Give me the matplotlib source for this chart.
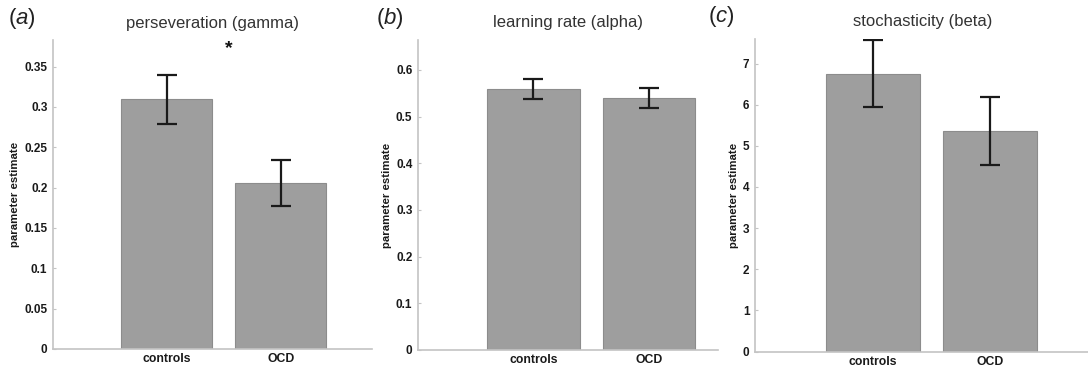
import matplotlib.pyplot as plt
import numpy as np

plt.rcParams['font.family'] = ['Liberation Sans', 'DejaVu Sans']
plt.rcParams['mathtext.fontset'] = 'custom'
plt.rcParams['mathtext.it'] = 'Liberation Sans:italic'
plt.rcParams['mathtext.rm'] = 'Liberation Sans'

groups = ['controls', 'OCD']

# perseveration (gamma)
gamma_mean = [0.310, 0.206]
gamma_lo = [0.279, 0.177]
gamma_hi = [0.340, 0.234]

# learning rate (alpha)
alpha_mean = [0.559, 0.540]
alpha_lo = [0.537, 0.518]
alpha_hi = [0.580, 0.562]

# stochasticity (beta)
beta_mean = [6.75, 5.37]
beta_lo = [5.94, 4.54]
beta_hi = [7.56, 6.19]

titles = ['perseveration (gamma)', 'learning rate (alpha)', 'stochasticity (beta)']
letters = ['a', 'b', 'c']
yticks_list = [[0, 0.05, 0.1, 0.15, 0.2, 0.25, 0.3, 0.35],
               [0, 0.1, 0.2, 0.3, 0.4, 0.5, 0.6],
               [0, 1, 2, 3, 4, 5, 6, 7]]
ytick_labels = [['0', '0.05', '0.1', '0.15', '0.2', '0.25', '0.3', '0.35'],
                ['0', '0.1', '0.2', '0.3', '0.4', '0.5', '0.6'],
                ['0', '1', '2', '3', '4', '5', '6', '7']]
ylims = [0.383, 0.664, 7.6]
xlims = [2.8, 2.6, 2.85]

# axes boxes in figure fractions
boxes = [[0.0487, 0.0568, 0.2932, 0.835],
         [0.3842, 0.0541, 0.2757, 0.838],
         [0.6939, 0.0500, 0.3080, 0.845]]

data = [(gamma_mean, gamma_lo, gamma_hi),
        (alpha_mean, alpha_lo, alpha_hi),
        (beta_mean, beta_lo, beta_hi)]

fig = plt.figure(figsize=(10.88, 3.70), dpi=100)
axis_col = '#c4c4c4'

for i in range(3):
    ax = fig.add_axes(boxes[i])
    m, lo, hi = data[i]
    x = np.arange(1, len(groups) + 1)
    ax.bar(x, m, width=0.8, color='#9e9e9e', edgecolor='#8c8c8c', linewidth=0.8, zorder=2)
    err = [np.array(m) - np.array(lo), np.array(hi) - np.array(m)]
    ax.errorbar(x, m, yerr=err, fmt='none', ecolor='#1a1a1a', elinewidth=1.6,
                capsize=7, capthick=1.6, zorder=3)
    ax.set_xlim(0, xlims[i])
    ax.set_ylim(0, ylims[i])
    ax.set_xticks(x)
    ax.set_xticklabels(groups, fontsize=8.8, fontweight='bold', color='#1a1a1a')
    ax.set_yticks(yticks_list[i])
    ax.set_yticklabels(ytick_labels[i], fontsize=8.5, fontweight='bold', color='#1a1a1a')
    ax.tick_params(axis='y', direction='in', length=2, color=axis_col, pad=4)
    ax.tick_params(axis='x', length=0, pad=3)
    for s in ['top', 'right']:
        ax.spines[s].set_visible(False)
    for s in ['left', 'bottom']:
        ax.spines[s].set_color(axis_col)
        ax.spines[s].set_linewidth(1.2)
    ax.set_ylabel('parameter estimate', fontsize=8.2, fontweight='bold', color='#1a1a1a', labelpad=3)
    ax.set_title(titles[i], fontsize=12, color='#333333', pad=9)
    ax.text(-0.14, 1.03, r'($\it{' + letters[i] + r'}$)', transform=ax.transAxes,
            fontsize=16, color='#222222', ha='left', va='bottom')

# significance star on panel a
fig.axes[0].text(1.54, 0.372, '*', fontsize=14, fontweight='bold', ha='center', va='center', color='#111111')

fig.savefig('out.png', dpi=100)
